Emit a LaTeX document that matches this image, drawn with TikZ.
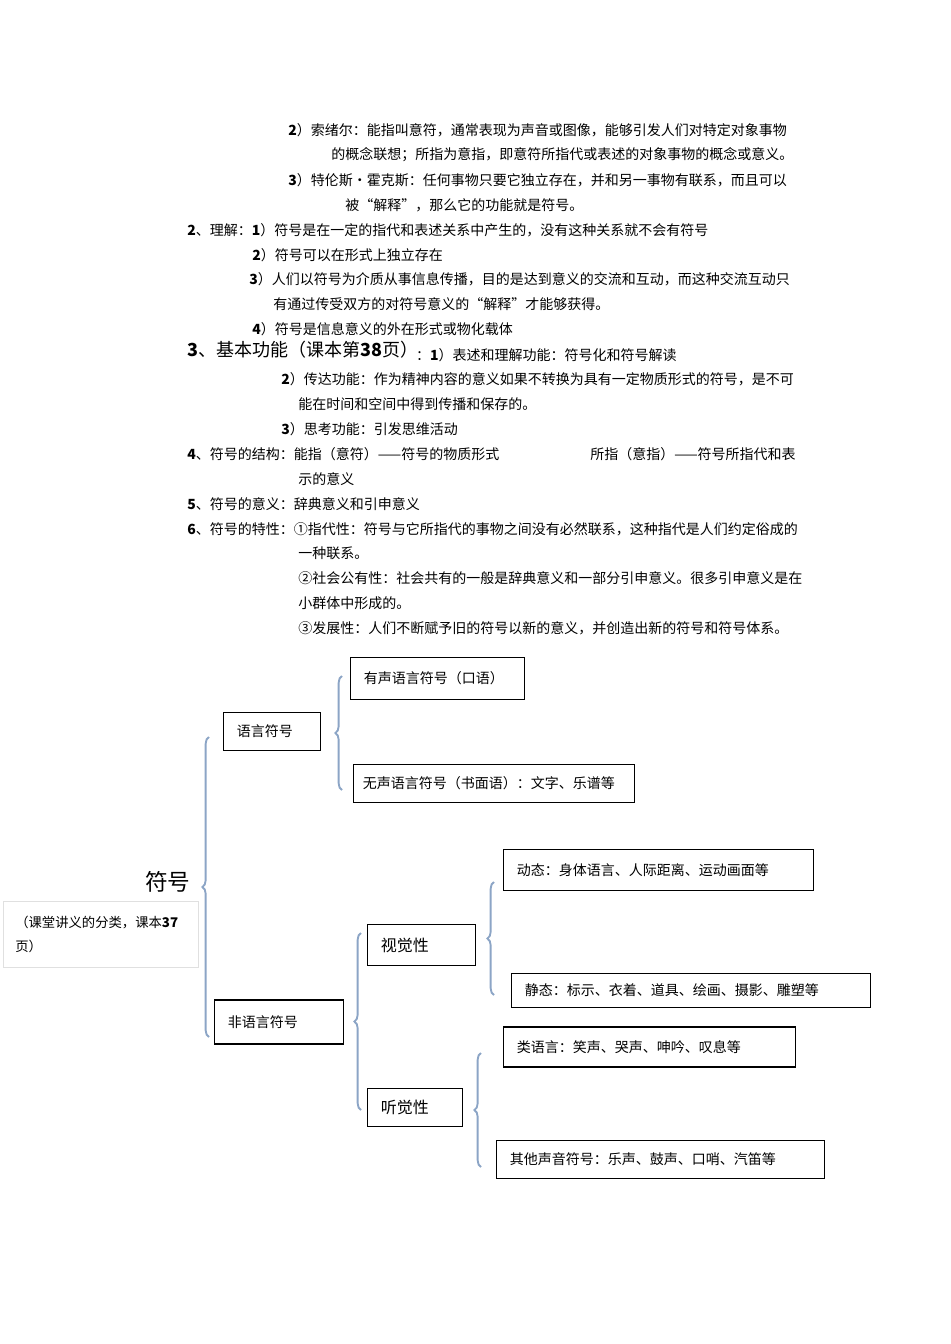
\documentclass[tikz,border=0pt]{standalone}
\usepackage{fontspec}
\setmainfont{Noto Sans CJK SC}
\usetikzlibrary{decorations.pathreplacing}
\definecolor{br}{HTML}{8CA5C6}
\begin{document}
\begin{tikzpicture}[x=0.75pt,y=-0.75pt,
  tl/.style={anchor=west,inner sep=0pt,font=\fontsize{10.5}{12}\selectfont},
  bx/.style={draw=black,line width=0.9pt,anchor=west,inner sep=0pt,font=\fontsize{10.5}{12}\selectfont},
  brc/.style={draw=br,line width=1.4pt,decorate,decoration={brace,amplitude=5pt}}]
\useasboundingbox (0,0) rectangle (950,1344);
\node[tl] (t1) at (288,130) {\textbf{2}）索绪尔：能指叫意符，通常表现为声音或图像，能够引发人们对特定对象事物};
\node[tl] (t2) at (331,155) {的概念联想；所指为意指，即意符所指代或表述的对象事物的概念或意义。};
\node[tl] (t3) at (288,180) {\textbf{3}）特伦斯·霍克斯：任何事物只要它独立存在，并和另一事物有联系，而且可以};
\node[tl] (t4) at (345,205) {被“解释”，那么它的功能就是符号。};
\node[tl] (t5) at (187,230) {\textbf{2}、理解：\textbf{1}）符号是在一定的指代和表述关系中产生的，没有这种关系就不会有符号};
\node[tl] (t6) at (252,255) {\textbf{2}）符号可以在形式上独立存在};
\node[tl] (t7) at (249,279) {\textbf{3}）人们以符号为介质从事信息传播，目的是达到意义的交流和互动，而这种交流互动只};
\node[tl] (t8) at (273,304) {有通过传受双方的对符号意义的“解释”才能够获得。};
\node[tl] (t9) at (252,329) {\textbf{4}）符号是信息意义的外在形式或物化载体};
\node[tl,font=\fontsize{13.5}{15}\selectfont] (t10) at (187,350) {\textbf{3}、基本功能（课本第\textbf{38}页）};
\node[tl] (t11) at (t10.east) [xshift=-2pt,yshift=-4pt] {：\textbf{1}）表述和理解功能：符号化和符号解读};
\node[tl] (t12) at (281,379) {\textbf{2}）传达功能：作为精神内容的意义如果不转换为具有一定物质形式的符号，是不可};
\node[tl] (t13) at (298,404) {能在时间和空间中得到传播和保存的。};
\node[tl] (t14) at (281,429) {\textbf{3}）思考功能：引发思维活动};
\node[tl] (t15) at (187,454) {\textbf{4}、符号的结构：能指（意符）——符号的物质形式};
\node[tl] (t16) at (590,454) {所指（意指）——符号所指代和表};
\node[tl] (t17) at (298,479) {示的意义};
\node[tl] (t18) at (187,504) {\textbf{5}、符号的意义：辞典意义和引申意义};
\node[tl] (t19) at (187,529) {\textbf{6}、符号的特性：①指代性：符号与它所指代的事物之间没有必然联系，这种指代是人们约定俗成的};
\node[tl] (t20) at (298,553) {一种联系。};
\node[tl] (t21) at (298,578) {②社会公有性：社会共有的一般是辞典意义和一部分引申意义。很多引申意义是在};
\node[tl] (t22) at (298,603) {小群体中形成的。};
\node[tl] (t23) at (298,628) {③发展性：人们不断赋予旧的符号以新的意义，并创造出新的符号和符号体系。};
% diagram
\node[tl,font=\fontsize{17}{19}\selectfont] (root) at (145,882) {符号};
\draw[draw=black!12] (3,901) rectangle (198,967);
\node[tl,align=left,font=\fontsize{10}{18}\selectfont] (note) at (15,934) {（课堂讲义的分类，课本\textbf{37}\\页）};
\node[bx,minimum width=169pt*0.75/0.75*0.75,text width=147*0.75pt,minimum height=31pt,inner xsep=10pt] (a1) at (350,678.5) {有声语言符号（口语）};
\node[bx,text width=70*0.75pt,minimum height=29pt,inner xsep=10pt] (a) at (223,731.5) {语言符号};
\node[bx,text width=262*0.75pt,minimum height=29pt,inner xsep=7pt] (a2) at (353,783.5) {无声语言符号（书面语）：文字、乐谱等};
\node[bx,text width=283*0.75pt,minimum height=31pt,inner xsep=10pt] (c1) at (503,870) {动态：身体语言、人际距离、运动画面等};
\node[bx,text width=81*0.75pt,minimum height=31pt,inner xsep=10pt,font=\fontsize{12}{14}\selectfont] (c) at (367,945) {视觉性};
\node[bx,text width=332*0.75pt,minimum height=26pt,inner xsep=10pt] (c2) at (511,990.5) {静态：标示、衣着、道具、绘画、摄影、雕塑等};
\node[bx,text width=102*0.75pt,minimum height=33pt,inner xsep=10pt] (b) at (214,1022) {非语言符号};
\node[bx,text width=265*0.75pt,minimum height=30pt,inner xsep=10pt] (d1) at (503,1047) {类语言：笑声、哭声、呻吟、叹息等};
\node[bx,text width=68*0.75pt,minimum height=29pt,inner xsep=10pt,font=\fontsize{12}{14}\selectfont] (d) at (367,1107.5) {听觉性};
\node[bx,text width=301*0.75pt,minimum height=28pt,inner xsep=10pt] (d2) at (496,1159.5) {其他声音符号：乐声、鼓声、口哨、汽笛等};
\coordinate (r1) at (209,1037); \coordinate (r2) at (209,737);
\coordinate (s1) at (342,790); \coordinate (s2) at (342,676);
\coordinate (u1) at (361,1110); \coordinate (u2) at (361,933);
\coordinate (v1) at (494,995); \coordinate (v2) at (494,882);
\coordinate (w1) at (481,1167); \coordinate (w2) at (481,1053);
\draw[brc] (r1) -- (r2);
\draw[brc] (s1) -- (s2);
\draw[brc] (u1) -- (u2);
\draw[brc] (v1) -- (v2);
\draw[brc] (w1) -- (w2);
\end{tikzpicture}
\end{document}
